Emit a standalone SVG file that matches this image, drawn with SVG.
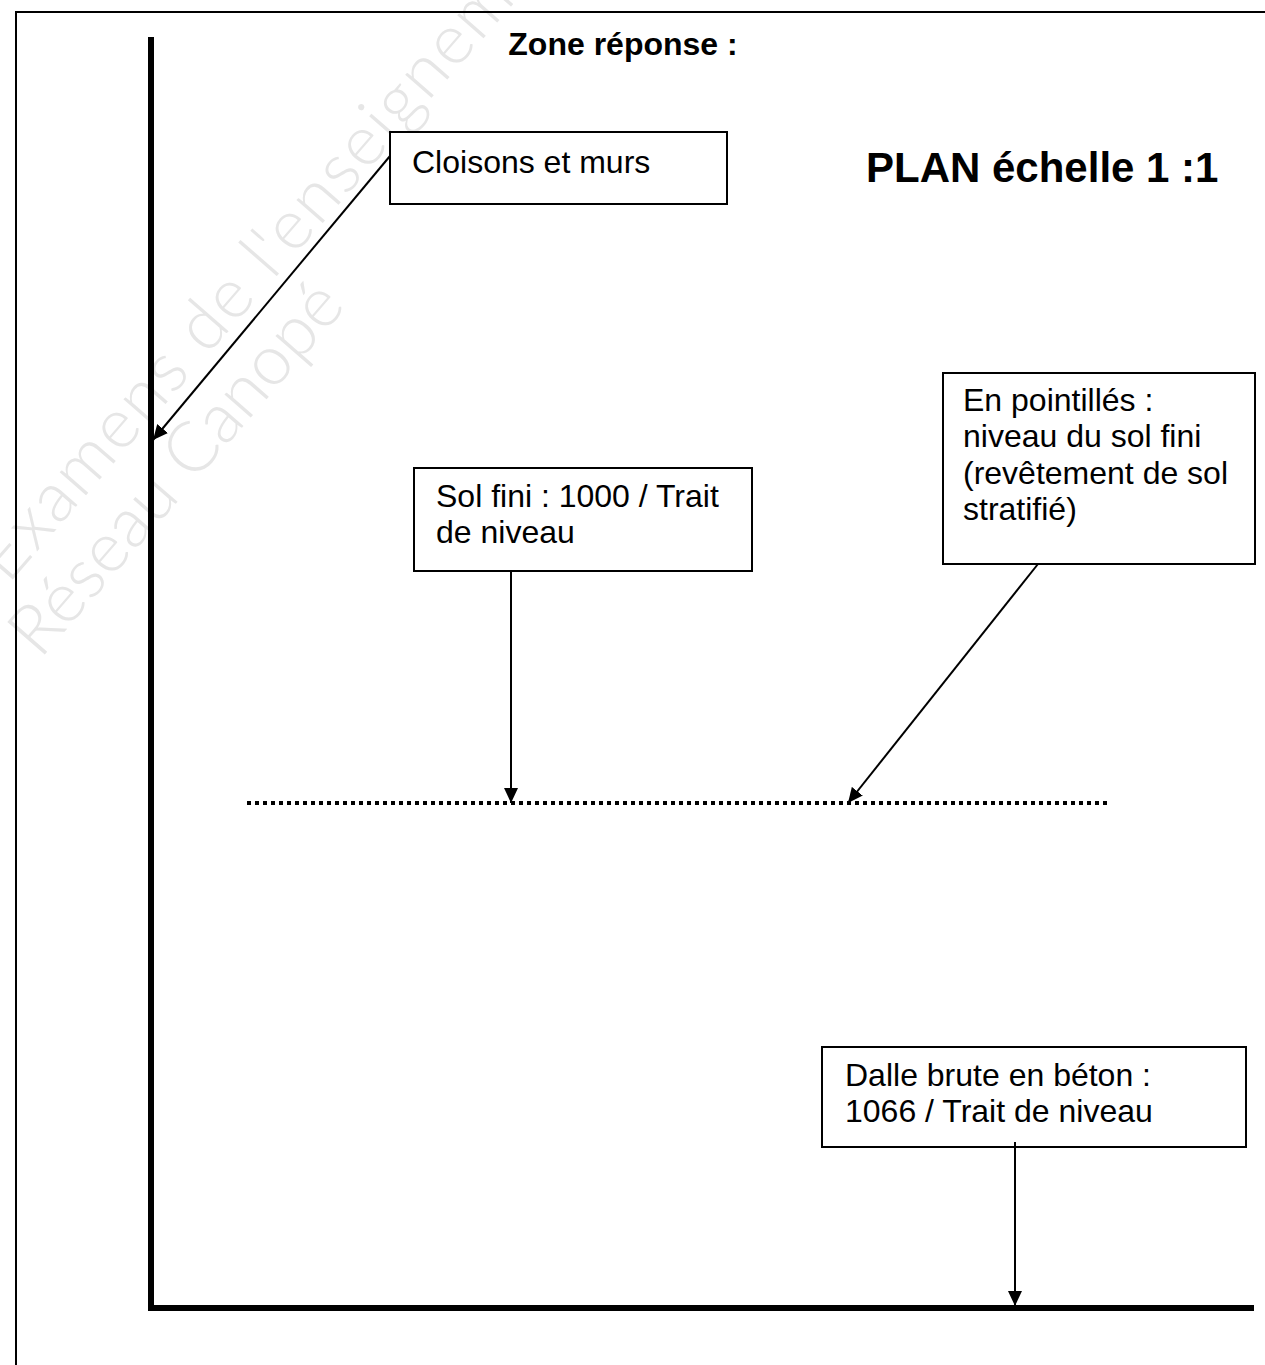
<svg xmlns="http://www.w3.org/2000/svg" width="1265" height="1365" viewBox="0 0 1265 1365">
<defs>
<style>
.box{fill:#fff;stroke:#000;stroke-width:2}
.t{font-family:"Liberation Sans",Arial,sans-serif;fill:#000;font-size:32px}
.b{font-weight:bold}
.c{stroke:#000;stroke-width:2;fill:none}
.wm{font-family:"Lato","Open Sans",sans-serif;font-weight:300;fill:#e6e6e6;font-size:70px}
</style>
<marker id="ah" markerWidth="15" markerHeight="14" refX="15" refY="7" orient="auto" markerUnits="userSpaceOnUse">
<path d="M0,0 L15,7 L0,14 Z" fill="#000"/>
</marker>
</defs>
<rect width="1265" height="1365" fill="#fff"/>
<g id="watermark">
<text class="wm" transform="translate(8,585) rotate(-49)" letter-spacing="2">Examens de l'enseignement</text>
<text class="wm" transform="translate(40,660) rotate(-49)">Réseau Canopé</text>
</g>
<g id="frame">
<path d="M16,1370 V12 H1270" fill="none" stroke="#000" stroke-width="2"/>
</g>
<g id="axes">
<path d="M151,37 V1308 H1254" fill="none" stroke="#000" stroke-width="6"/>
<line x1="247" y1="803" x2="1110" y2="803" stroke="#000" stroke-width="4" stroke-dasharray="4 4"/>
</g>
<text class="t b" x="623" y="55" font-size="31.5" text-anchor="middle">Zone réponse :</text>
<text class="t b" x="866" y="182" style="font-size:42px">PLAN échelle 1 :1</text>
<g id="n-cloisons">
<rect class="box" x="390" y="132" width="337" height="72"/>
<text class="t" x="412" y="173">Cloisons et murs</text>
</g>
<g id="n-solfini">
<rect class="box" x="414" y="468" width="338" height="103"/>
<text class="t"><tspan x="436" y="507">Sol fini : 1000 / Trait</tspan><tspan x="436" y="543">de niveau</tspan></text>
</g>
<g id="n-pointilles">
<rect class="box" x="943" y="373" width="312" height="191"/>
<text class="t"><tspan x="963" y="411">En pointillés :</tspan><tspan x="963" y="447">niveau du sol fini</tspan><tspan x="963" y="484">(revêtement de sol</tspan><tspan x="963" y="520">stratifié)</tspan></text>
</g>
<g id="n-dalle">
<rect class="box" x="822" y="1047" width="424" height="100"/>
<text class="t"><tspan x="845" y="1086">Dalle brute en béton :</tspan><tspan x="845" y="1122">1066 / Trait de niveau</tspan></text>
</g>
<g id="connectors">
<line class="c" x1="390" y1="156" x2="153" y2="440" marker-end="url(#ah)"/>
<line class="c" x1="511" y1="571" x2="511" y2="803" marker-end="url(#ah)"/>
<line class="c" x1="1038" y1="564" x2="848" y2="803" marker-end="url(#ah)"/>
<line class="c" x1="1015" y1="1142" x2="1015" y2="1306" marker-end="url(#ah)"/>
</g>
</svg>
